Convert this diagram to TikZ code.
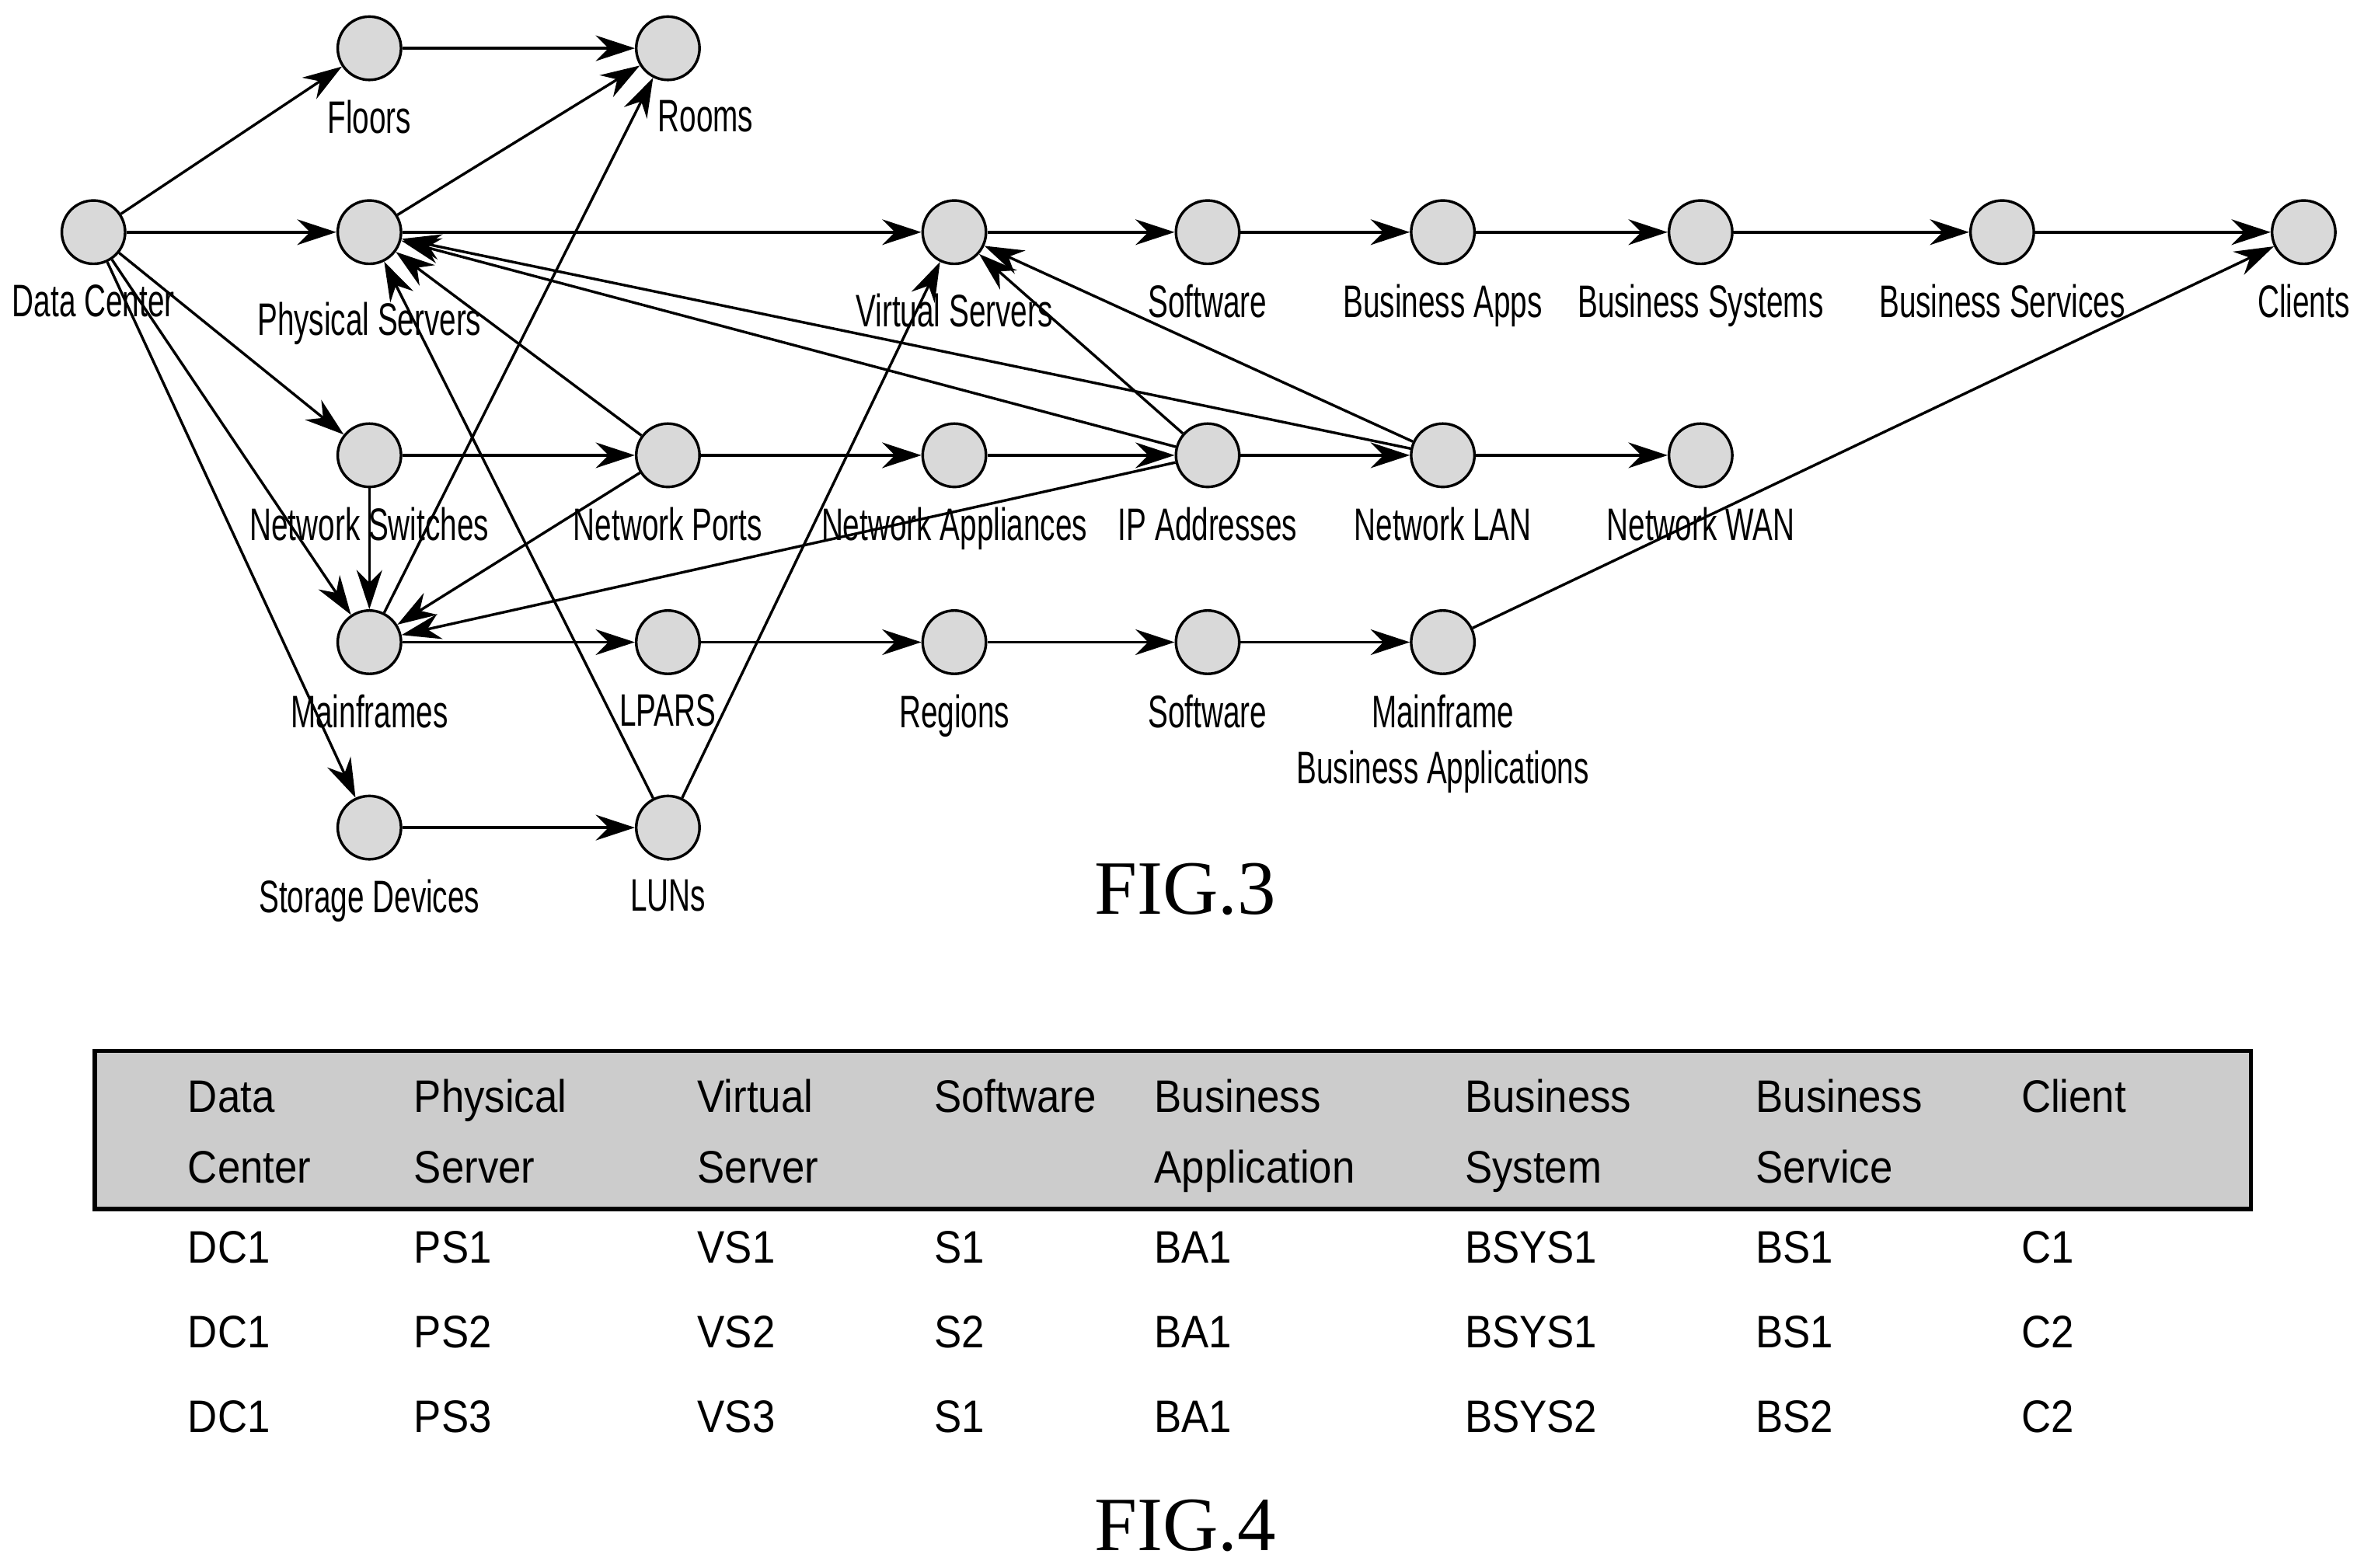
\documentclass[tikz,border=0pt]{standalone}
\usepackage{fontspec}
\setmainfont{Liberation Sans}
\newfontfamily\narrowf[FakeStretch=0.66]{Liberation Sans}
\newfontfamily\tabf[FakeStretch=0.9]{Liberation Sans}
\newfontfamily\serf{Liberation Serif}
\usetikzlibrary{arrows.meta}
\begin{document}
\begin{tikzpicture}[x=0.1mm,y=-0.1mm,
 v/.style={circle,draw,line width=0.5pt,fill=black!15,minimum size=4.2mm,inner sep=0pt},
 lab/.style={font=\narrowf\fontsize{8.6}{10.6}\selectfont,align=center,anchor=north,inner sep=0pt},
 e/.style={-{Stealth[length=2.6mm,width=1.7mm]},line width=0.5pt},
 t/.style={font=\tabf\fontsize{8.6}{10}\selectfont,anchor=base west,inner sep=0pt}]
\useasboundingbox (0,0) rectangle (1568,1040);
\foreach \n/\x/\y/\l/\dx/\dy in {dc/62/154/Data Center/0/0, fl/245/32/Floors/0/0, ro/443/32/Rooms/25/0, ps/245/154/Physical Servers/0/12, vs/633/154/Virtual Servers/0/6, sw/801/154/Software/0/0, ba/957/154/Business Apps/0/0, bsy/1128/154/Business Systems/0/0, bse/1328/154/Business Services/0/0, cl/1528/154/Clients/0/0, ns/245/302/Network Switches/0/0, np/443/302/Network Ports/0/0, na/633/302/Network Appliances/0/0, ip/801/302/IP Addresses/0/0, lan/957/302/Network LAN/0/0, wan/1128/302/Network WAN/0/0, mf/245/426/Mainframes/0/0, lp/443/426/LPARS/0/0, rg/633/426/Regions/0/0, sw2/801/426/Software/0/0, sd/245/549/Storage Devices/0/0, lu/443/549/LUNs/0/0}
 {\node[v] (\n) at (\x,\y) {}; \node[lab] (\n l) at (\x+\dx,\y+34+\dy) {\l};}
\node[v] (mba) at (957,426) {};
\node[lab] (mbal) at (957,460) {Mainframe\\Business Applications};
\foreach \a/\b in {dc/fl,dc/ps,dc/ns,dc/mf,dc/sd,fl/ro,ps/ro,ps/vs,vs/sw,sw/ba,ba/bsy,bsy/bse,bse/cl,ns/np,np/na,na/ip,ip/lan,lan/wan,ns/mf,np/ps,np/mf,ip/ps,lan/ps,ip/vs,lan/vs,ip/mf,mf/ro,mf/lp,lp/rg,rg/sw2,sw2/mba,mba/cl,sd/lu,lu/ps,lu/vs}
 \draw[e] (\a) -- (\b);
\node[font=\serf\fontsize{14.5}{16}\selectfont] (f3) at (786,590) {FIG.3};
\draw[line width=0.8pt,fill=black!20] (63,697) rectangle (1493,802);
\foreach \x/\a/\b in {124/Data/Center,274/Physical/Server,462/Virtual/Server,619/Software/{},765/Business/Application,971/Business/System,1164/Business/Service,1340/Client/{}}
 {\node[t] at (\x,738) {\a}; \node[t] at (\x,785) {\b};}
\foreach \y/\r in {838/1,894/2,950/3}{
 \node[t] at (124,\y) {DC1}; \node[t] at (274,\y) {PS\r}; \node[t] at (462,\y) {VS\r};}
\foreach \y/\s/\bs/\b/\c in {838/S1/BSYS1/BS1/C1,894/S2/BSYS1/BS1/C2,950/S1/BSYS2/BS2/C2}{
 \node[t] at (619,\y) {\s}; \node[t] at (765,\y) {BA1}; \node[t] at (971,\y) {\bs}; \node[t] at (1164,\y) {\b}; \node[t] at (1340,\y) {\c};}
\node[font=\serf\fontsize{14.5}{16}\selectfont] (f4) at (786,1012) {FIG.4};
\end{tikzpicture}
\end{document}
